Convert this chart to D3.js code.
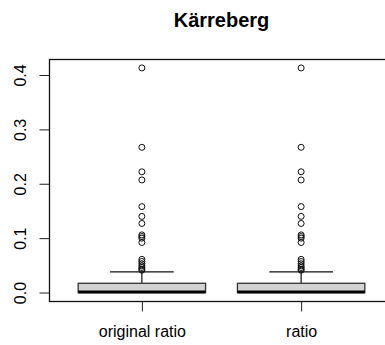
<!DOCTYPE html>
<html>
<head>
<meta charset="utf-8">
<script src="https://cdn.jsdelivr.net/npm/d3@7"></script>
<style>
  html, body { margin: 0; padding: 0; background: #fff; }
  svg { display: block; }
  text { font-family: "Liberation Sans", Arial, sans-serif; fill: #000; }
</style>
</head>
<body>
<script>
const title = "Kärreberg";
const categories = ["original ratio", "ratio"];
const whiskerLow = [0, 0];
const q1 = [0, 0];
const median = [0.001, 0.001];
const q3 = [0.017, 0.017];
const whiskerHigh = [0.038, 0.038];
const outliersOriginal = [0.413, 0.267, 0.222, 0.207, 0.158, 0.140, 0.127, 0.106, 0.103, 0.100, 0.092, 0.061, 0.057, 0.053, 0.049, 0.046, 0.043, 0.041];
const outliersRatio = [0.413, 0.267, 0.222, 0.207, 0.158, 0.140, 0.127, 0.106, 0.103, 0.100, 0.092, 0.061, 0.057, 0.053, 0.049, 0.046, 0.043, 0.041];
const outliers = [outliersOriginal, outliersRatio];
const yTicks = [0, 0.1, 0.2, 0.3, 0.4];
const yTickLabels = ["0.0", "0.1", "0.2", "0.3", "0.4"];

(function () {
const W = 385, H = 345;
const svg = d3.select("body").append("svg").attr("width", W).attr("height", H);

const mLeft = 49.5, mTop = 59.5, mBottom = 301.5, mRight = 393.5;
const y = d3.scaleLinear().domain([-0.0165, 0.4285]).range([mBottom, mTop]);
const x = d3.scaleLinear().domain([0.42, 2.58]).range([mLeft, mRight]);

// Title
svg.append("text")
  .attr("x", (mLeft + mRight) / 2)
  .attr("y", 27)
  .attr("text-anchor", "middle")
  .style("font-size", "20px")
  .style("font-weight", "bold")
  .text(title);

// Y axis
const yAxis = d3.axisLeft(y).tickValues(yTicks).tickFormat((d, i) => yTickLabels[i]).tickSize(10).tickSizeOuter(0);
const gy = svg.append("g").attr("transform", `translate(${mLeft},0)`).call(yAxis);
gy.select(".domain").remove();
gy.selectAll(".tick line").attr("stroke", "#222").attr("stroke-width", 1);
gy.selectAll(".tick text")
  .attr("x", 0).attr("y", 0)
  .attr("dx", 0).attr("dy", 0)
  .attr("text-anchor", "middle")
  .attr("transform", "translate(-23.5,0) rotate(-90)")
  .style("font-size", "16px")
  .style("font-family", "'Liberation Sans', Arial, sans-serif");

// X axis
const xAxis = d3.axisBottom(x).tickValues([1, 2]).tickFormat((d, i) => categories[i]).tickSize(10).tickSizeOuter(0);
const gx = svg.append("g").attr("transform", `translate(0,${mBottom})`).call(xAxis);
gx.select(".domain").remove();
gx.selectAll(".tick line").attr("stroke", "#222").attr("stroke-width", 1);
gx.selectAll(".tick text")
  .attr("y", 35)
  .attr("dy", 0)
  .style("font-size", "16px")
  .style("font-family", "'Liberation Sans', Arial, sans-serif");

// Frame
svg.append("rect")
  .attr("x", mLeft).attr("y", mTop)
  .attr("width", mRight - mLeft).attr("height", mBottom - mTop)
  .attr("fill", "none").attr("stroke", "#111").attr("stroke-width", 1.3);

// Boxes
const boxW = 0.8, stapleW = 0.4;
categories.forEach((c, i) => {
  const cx = x(i + 1);
  const g = svg.append("g");
  g.append("line")
    .attr("x1", cx).attr("x2", cx)
    .attr("y1", y(q3[i])).attr("y2", y(whiskerHigh[i]))
    .attr("stroke", "#111").attr("stroke-width", 1.2);
  g.append("line")
    .attr("x1", x(i + 1 - stapleW / 2)).attr("x2", x(i + 1 + stapleW / 2))
    .attr("y1", y(whiskerHigh[i])).attr("y2", y(whiskerHigh[i]))
    .attr("stroke", "#111").attr("stroke-width", 1.2);
  g.append("line")
    .attr("x1", cx).attr("x2", cx)
    .attr("y1", y(q1[i])).attr("y2", y(whiskerLow[i]))
    .attr("stroke", "#111").attr("stroke-width", 1.2);
  g.append("rect")
    .attr("x", x(i + 1 - boxW / 2)).attr("width", x(i + 1 + boxW / 2) - x(i + 1 - boxW / 2))
    .attr("y", y(q3[i])).attr("height", y(q1[i]) - y(q3[i]))
    .attr("fill", "#d3d3d3").attr("stroke", "#333").attr("stroke-width", 1.3);
  g.append("line")
    .attr("x1", x(i + 1 - boxW / 2)).attr("x2", x(i + 1 + boxW / 2))
    .attr("y1", y(median[i])).attr("y2", y(median[i]))
    .attr("stroke", "#000").attr("stroke-width", 3);
  g.selectAll("circle").data(outliers[i]).enter().append("circle")
    .attr("cx", cx).attr("cy", d => y(d)).attr("r", 3)
    .attr("fill", "none").attr("stroke", "#111").attr("stroke-width", 1);
});
})();
</script>
</body>
</html>
